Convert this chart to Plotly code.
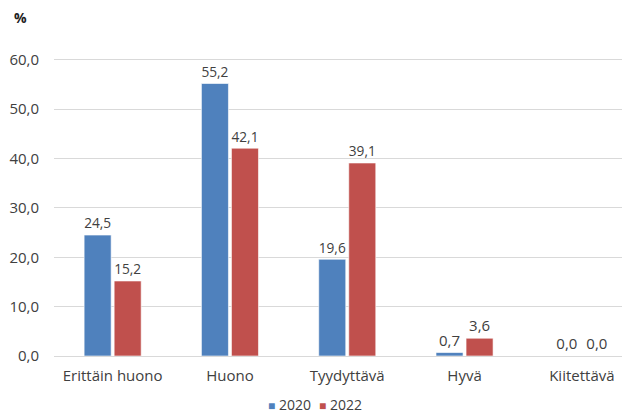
import plotly.graph_objects as go

categories = ['Erittäin huono', 'Huono', 'Tyydyttävä', 'Hyvä', 'Kiitettävä']
values_2020 = [24.5, 55.2, 19.6, 0.7, 0.0]
values_2022 = [15.2, 42.1, 39.1, 3.6, 0.0]
y_ticks = [0, 10, 20, 30, 40, 50, 60]
series = [('2020', values_2020, '#4F81BD'), ('2022', values_2022, '#C0504D')]

FONT = 'Open Sans'
TXT = '#404040'
SIZE = 15

# page body adds an 8px offset, margins are shifted to compensate
L, T, B = 46, 37, 66
plot_w = 630 - L
plot_h = 414 - T - B


def px(x):
    return (x - L) / plot_w


def py(y):
    return (414 - B - y) / plot_h


fig = go.Figure()
for name, vals, color in series:
    fig.add_trace(go.Bar(
        x=list(range(len(categories))), y=vals, name=name,
        marker=dict(color=color, line=dict(color='rgba(255,255,255,0.6)', width=1)),
        texttemplate='%{y:.1f}', textposition='outside', cliponaxis=False,
        textfont=dict(family=FONT, size=SIZE, color=TXT),
    ))

# compact legend, Excel style (small square + label)
annotations = [dict(text='<b>%</b>', xref='paper', yref='paper',
                    x=px(4), y=py(10), xanchor='left', yanchor='middle', showarrow=False,
                    font=dict(family=FONT, size=SIZE - 1, color='#222'))]
for (name, _, color), lx in zip(series, [258, 309]):
    annotations.append(dict(
        text=f"<span style='color:{color};font-size:12px'>■</span> {name}",
        xref='paper', yref='paper', x=px(lx), y=py(396),
        xanchor='left', yanchor='middle', showarrow=False,
        font=dict(family=FONT, size=SIZE - 1, color=TXT)))

fig.update_layout(
    width=630, height=414,
    margin=dict(l=L, r=0, t=T, b=B),
    paper_bgcolor='white', plot_bgcolor='white',
    separators=',.',
    barmode='group', bargap=0.488, bargroupgap=0.1,
    font=dict(family=FONT, size=SIZE, color=TXT),
    showlegend=False,
    annotations=annotations,
)

fig.update_xaxes(
    range=[-0.5, -0.5 + plot_w / 117.3], automargin=False,
    tickvals=list(range(len(categories))), ticktext=categories,
    showgrid=False, showline=True, linecolor='#d9d9d9', ticks='',
    ticklabelstandoff=6,
    tickfont=dict(family=FONT, size=SIZE, color=TXT),
)
fig.update_yaxes(
    range=[0, 63], tickvals=y_ticks, tickformat='.1f', automargin=False,
    showgrid=True, gridcolor='#d9d9d9', zeroline=False, showline=False,
    ticks='', ticklabelstandoff=14,
    tickfont=dict(family=FONT, size=SIZE, color=TXT),
)

fig.write_html('out.html')
